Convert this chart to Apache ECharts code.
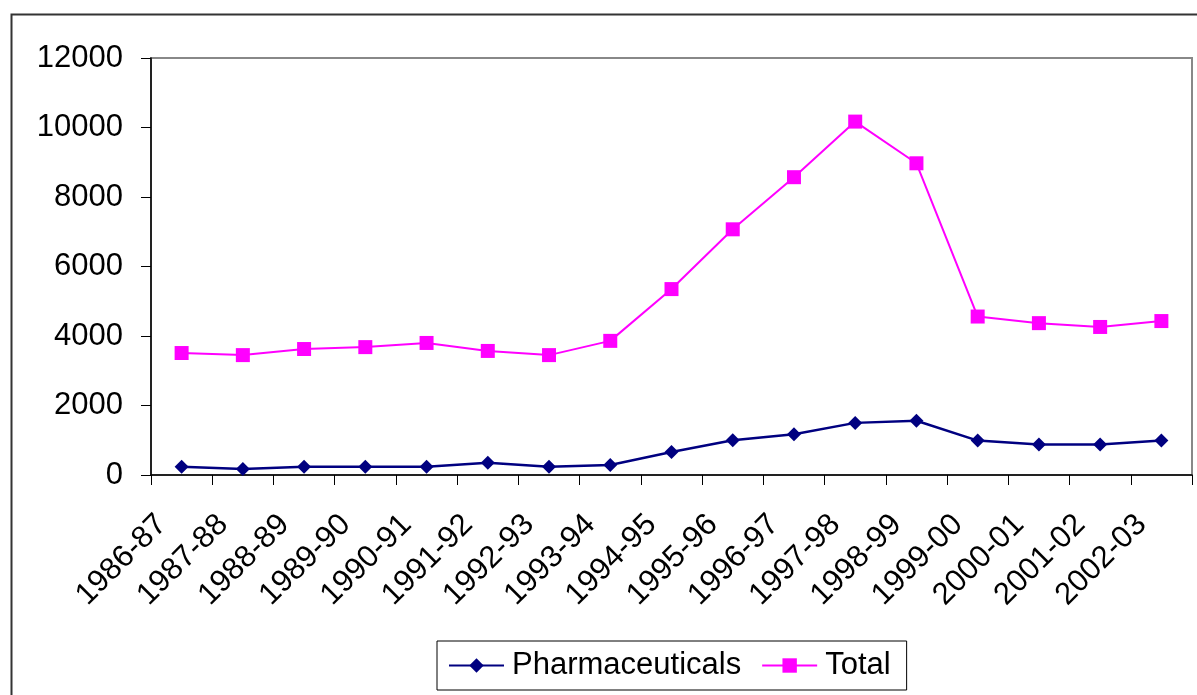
<!DOCTYPE html>
<html>
<head>
<meta charset="utf-8">
<script src="https://cdn.jsdelivr.net/npm/echarts@6/dist/echarts.min.js"></script>
<style>
html,body{margin:0;padding:0;background:#fff;}
#chart{width:1197px;height:695px;}
</style>
</head>
<body>
<div id="chart"></div>
<script>
const categories = ["1986-87","1987-88","1988-89","1989-90","1990-91","1991-92","1992-93","1993-94","1994-95","1995-96","1996-97","1997-98","1998-99","1999-00","2000-01","2001-02","2002-03"];
const pharmaceuticals = [240,170,240,240,240,355,240,290,660,1000,1170,1500,1560,990,880,880,990];
const total = [3510,3450,3625,3680,3800,3570,3450,3860,5350,7070,8570,10170,8970,4560,4370,4260,4430];
const yTicks = {min:0, max:12000, interval:2000};

const chart = echarts.init(document.getElementById('chart'), null, {renderer:'canvas'});
const font = 'Arial, "Liberation Sans", sans-serif';
chart.setOption({
  animation:false,
  backgroundColor:'#fff',
  graphic:[{type:'rect', left:9, top:12, shape:{x:0,y:0,width:1210,height:700}, style:{fill:null, stroke:'#333', lineWidth:2}, z:-1}],
  grid:{left:151, top:58, right:5, bottom:220, show:true, borderColor:'#888', borderWidth:2, backgroundColor:'transparent'},
  legend:{
    left:437, top:641, padding:[9,16,9,11], itemGap:20, itemWidth:55, itemHeight:18,
    borderColor:'#000', borderWidth:1, backgroundColor:'#fff',
    textStyle:{fontFamily:font, fontSize:31, color:'#000', padding:[0,0,0,3]},
    data:['Pharmaceuticals','Total']
  },
  xAxis:{
    type:'category', data:categories, boundaryGap:true,
    axisLine:{lineStyle:{color:'#000', width:1.5}},
    axisTick:{show:true, alignWithLabel:false, length:10, lineStyle:{color:'#000', width:1}},
    axisLabel:{rotate:45, margin:25, padding:[0,28,0,0], fontFamily:font, fontSize:31, color:'#000', interval:0}
  },
  yAxis:{
    type:'value', min:yTicks.min, max:yTicks.max, interval:yTicks.interval,
    splitLine:{show:false},
    axisLine:{show:true, lineStyle:{color:'#000', width:1.5}},
    axisTick:{show:true, length:10, lineStyle:{color:'#000', width:1}},
    axisLabel:{margin:28, fontFamily:font, fontSize:31, color:'#000', formatter:function(v){return String(v);}}
  },
  series:[
    {name:'Pharmaceuticals', type:'line', data:pharmaceuticals, symbol:'diamond', symbolSize:[14,14],
     lineStyle:{color:'#000080', width:2.5}, itemStyle:{color:'#000080'}, color:'#000080'},
    {name:'Total', type:'line', data:total, symbol:'rect', symbolSize:[14,14],
     lineStyle:{color:'#FF00FF', width:2}, itemStyle:{color:'#FF00FF'}, color:'#FF00FF'}
  ]
});
</script>
</body>
</html>
